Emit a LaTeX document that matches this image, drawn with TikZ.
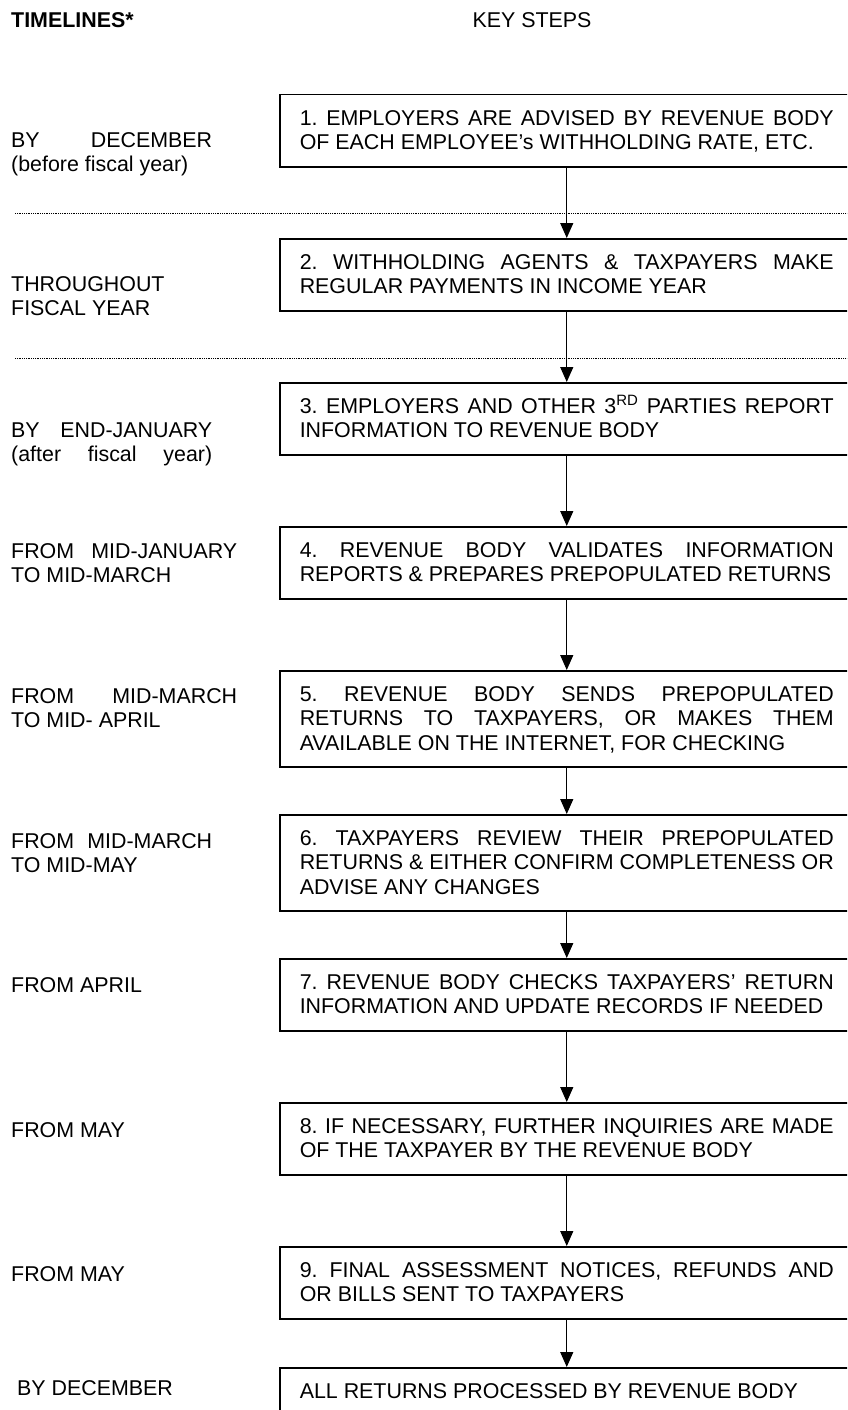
\documentclass[tikz,border=0pt]{standalone}
\usepackage{fontspec}
\setmainfont{Liberation Sans}
\usepackage{tikz}
\usetikzlibrary{positioning,arrows.meta}

% one line of text, with the font's own word spaces
\newcommand{\linestrut}{\spaceskip=0pt\xspaceskip=0pt\relax\rule[-5.3pt]{0pt}{24.4pt}}
\newcommand{\jline}[2][534pt]{\linestrut\makebox[#1][s]{#2}}

\begin{document}
\frenchspacing
\begin{tikzpicture}[x=1pt, y=-1pt,
    stepbox/.style={draw, line width=1.5pt, text width=534pt, inner xsep=20pt, inner ysep=0pt,
      align=left, minimum height=72pt, font=\fontsize{21.4}{24.4}\selectfont},
    tallbox/.style={stepbox, minimum height=96pt},
    timeline/.style={anchor=north west, inner sep=0pt, align=left, font=\fontsize{21.4}{24.4}\selectfont},
    flow/.style={line width=1.2pt, -{Triangle[width=13pt,length=15pt]}},
    divider/.style={line width=0.7pt, dash pattern=on 0.7pt off 1.1pt}]
    \useasboundingbox (0,0) rectangle (847,1410);
    \clip (0,0) rectangle (847,1410);

    % Headings
    \node[anchor=west, inner sep=0pt, font=\fontsize{21.4}{24.4}\selectfont\bfseries] (head) at (11,20) {TIMELINES*};
    \node[inner sep=0pt, font=\fontsize{21.4}{24.4}\selectfont] (keysteps) at (532,20) {KEY STEPS};
    \coordinate (lx) at (11,0);

    % Fiscal year limits
    \draw[divider] (15,213) -- (847,213);
    \draw[divider] (15,358) -- (847,358);

    % Key steps
    \node[stepbox, anchor=north west] (b1) at (279,94)
      {\jline{1. EMPLOYERS ARE ADVISED BY REVENUE BODY}\\ \linestrut OF EACH EMPLOYEE’s WITHHOLDING RATE, ETC.};
    \node[stepbox, below=70.5pt of b1] (b2)
      {\jline{2. WITHHOLDING AGENTS \& TAXPAYERS MAKE}\\ \linestrut REGULAR PAYMENTS IN INCOME YEAR};
    \node[stepbox, below=70.5pt of b2] (b3)
      {\jline{3. EMPLOYERS AND OTHER 3\textsuperscript{RD} PARTIES REPORT}\\ \linestrut INFORMATION TO REVENUE BODY};
    \node[stepbox, below=70.5pt of b3] (b4)
      {\jline{4. REVENUE BODY VALIDATES INFORMATION}\\ \linestrut REPORTS \& PREPARES PREPOPULATED RETURNS};
    \node[tallbox, below=70.5pt of b4] (b5)
      {\jline{5. REVENUE BODY SENDS PREPOPULATED}\\ \jline{RETURNS TO TAXPAYERS, OR MAKES THEM}\\ \linestrut AVAILABLE ON THE INTERNET, FOR CHECKING};
    \node[tallbox, below=46.5pt of b5] (b6)
      {\jline{6. TAXPAYERS REVIEW THEIR PREPOPULATED}\\ \jline{RETURNS \& EITHER CONFIRM COMPLETENESS OR}\\ \linestrut ADVISE ANY CHANGES};
    \node[stepbox, below=46.5pt of b6] (b7)
      {\jline{7. REVENUE BODY CHECKS TAXPAYERS’ RETURN}\\ \linestrut INFORMATION AND UPDATE RECORDS IF NEEDED};
    \node[stepbox, below=70.5pt of b7] (b8)
      {\jline{8. IF NECESSARY, FURTHER INQUIRIES ARE MADE}\\ \linestrut OF THE TAXPAYER BY THE REVENUE BODY};
    \node[stepbox, below=70.5pt of b8] (b9)
      {\jline{9. FINAL ASSESSMENT NOTICES, REFUNDS AND}\\ \linestrut OR BILLS SENT TO TAXPAYERS};
    \node[stepbox, minimum height=47pt, below=47.5pt of b9] (b10)
      {\linestrut ALL RETURNS PROCESSED BY REVENUE BODY};

    \foreach \a/\b in {b1/b2, b2/b3, b3/b4, b4/b5, b5/b6, b6/b7, b7/b8, b8/b9, b9/b10}
      \draw[flow] (\a) -- (\b);

    % Timelines
    \node[timeline, yshift=-34pt] (t1) at (b1.north -| lx) {\jline[201pt]{BY DECEMBER}\\ \linestrut(before fiscal year)};
    \node[timeline, yshift=-34pt] (t2) at (b2.north -| lx) {\linestrut THROUGHOUT\\ \linestrut FISCAL YEAR};
    \node[timeline, yshift=-36pt] (t3) at (b3.north -| lx) {\jline[201pt]{BY END-JANUARY}\\ \jline[201pt]{(after fiscal year)}};
    \node[timeline, yshift=-13pt] (t4) at (b4.north -| lx) {\jline[226pt]{FROM MID-JANUARY}\\ \linestrut TO MID-MARCH};
    \node[timeline, yshift=-14pt] (t5) at (b5.north -| lx) {\jline[226pt]{FROM MID-MARCH}\\ \linestrut TO MID- APRIL};
    \node[timeline, yshift=-15pt] (t6) at (b6.north -| lx) {\jline[201pt]{FROM MID-MARCH}\\ \linestrut TO MID-MAY};
    \node[timeline, yshift=-15pt] (t7) at (b7.north -| lx) {\linestrut FROM APRIL};
    \node[timeline, yshift=-16pt] (t8) at (b8.north -| lx) {\linestrut FROM MAY};
    \node[timeline, yshift=-16pt] (t9) at (b9.north -| lx) {\linestrut FROM MAY};
    \node[timeline, xshift=6pt, yshift=-9pt] (t10) at (b10.north -| lx) {\linestrut BY DECEMBER};

\end{tikzpicture}
\end{document}
